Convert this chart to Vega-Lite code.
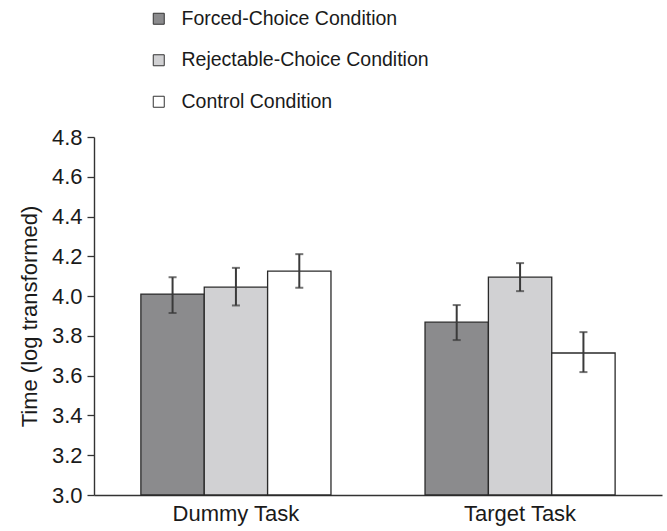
{
  "$schema": "https://vega.github.io/schema/vega-lite/v6.json",
  "autosize": "none",
  "width": 568,
  "height": 358,
  "padding": {"left": 94, "top": 137, "right": 5, "bottom": 36},
  "background": "white",
  "config": {
    "font": "Liberation Sans",
    "view": {"stroke": null},
    "axisY": {
      "titleFontSize": 22, "titleFontWeight": "normal", "titleColor": "#1a1a1a",
      "labelFontSize": 22, "labelColor": "#1a1a1a", "labelOverlap": false, "labelBound": false, "labelFlush": false,
      "grid": false, "tickSize": 7, "tickColor": "#333", "tickWidth": 1.3, "domainColor": "#333", "domainWidth": 1.4,
      "labelPadding": 5, "titlePadding": 10
    },
    "axisX": {
      "labelFontSize": 22, "labelColor": "#1a1a1a", "ticks": false, "domainColor": "#333", "domainWidth": 1.6, "labelPadding": 8
    }
  },
  "data": {
    "values": [
      {"task": "Dummy Task", "condition": "Forced-Choice Condition", "mean": 4.01, "lo": 3.915, "hi": 4.095},
      {"task": "Dummy Task", "condition": "Rejectable-Choice Condition", "mean": 4.045, "lo": 3.953, "hi": 4.142},
      {"task": "Dummy Task", "condition": "Control Condition", "mean": 4.126, "lo": 4.042, "hi": 4.211},
      {"task": "Target Task", "condition": "Forced-Choice Condition", "mean": 3.869, "lo": 3.779, "hi": 3.955},
      {"task": "Target Task", "condition": "Rejectable-Choice Condition", "mean": 4.095, "lo": 4.025, "hi": 4.166},
      {"task": "Target Task", "condition": "Control Condition", "mean": 3.714, "lo": 3.618, "hi": 3.819}
    ]
  },
  "encoding": {
    "x": {
      "field": "task", "type": "nominal",
      "scale": {"paddingInner": 0.331, "paddingOuter": 0.165},
      "axis": {"title": null, "labelAngle": 0}
    },
    "xOffset": {
      "field": "condition", "type": "nominal",
      "sort": ["Forced-Choice Condition", "Rejectable-Choice Condition", "Control Condition"],
      "scale": {"paddingInner": 0, "paddingOuter": 0}
    }
  },
  "layer": [
    {
      "mark": {"type": "bar", "stroke": "#2a2a2a", "strokeWidth": 1.3},
      "encoding": {
        "y": {
          "field": "mean", "type": "quantitative",
          "scale": {"domain": [3.0, 4.8], "zero": false, "nice": false},
          "axis": {"title": "Time (log transformed)", "format": ".1f", "values": [3.0, 3.2, 3.4, 3.6, 3.8, 4.0, 4.2, 4.4, 4.6, 4.8]}
        },
        "y2": {"datum": 3.0},
        "fill": {
          "field": "condition", "type": "nominal",
          "sort": ["Forced-Choice Condition", "Rejectable-Choice Condition", "Control Condition"],
          "scale": {"domain": ["Forced-Choice Condition", "Rejectable-Choice Condition", "Control Condition"], "range": ["#8b8b8d", "#d1d1d3", "#ffffff"]},
          "legend": {
            "title": null, "orient": "none", "legendX": 55, "legendY": -128,
            "symbolType": "square", "symbolSize": 121, "symbolStrokeColor": "#333", "symbolStrokeWidth": 1,
            "labelFontSize": 19.5, "labelColor": "#1a1a1a", "labelLimit": 400, "rowPadding": 20.5, "labelOffset": 13
          }
        }
      }
    },
    {
      "mark": {"type": "rule", "color": "#3a3a3a", "strokeWidth": 2},
      "encoding": {
        "y": {"field": "lo", "type": "quantitative", "axis": {"title": "Time (log transformed)", "format": ".1f", "values": [3.0, 3.2, 3.4, 3.6, 3.8, 4.0, 4.2, 4.4, 4.6, 4.8]}},
        "y2": {"field": "hi"}
      }
    },
    {
      "mark": {"type": "tick", "color": "#3a3a3a", "size": 8, "thickness": 2, "orient": "horizontal"},
      "encoding": {"y": {"field": "lo", "type": "quantitative", "axis": {"title": "Time (log transformed)", "format": ".1f", "values": [3.0, 3.2, 3.4, 3.6, 3.8, 4.0, 4.2, 4.4, 4.6, 4.8]}}}
    },
    {
      "mark": {"type": "tick", "color": "#3a3a3a", "size": 8, "thickness": 2, "orient": "horizontal"},
      "encoding": {"y": {"field": "hi", "type": "quantitative", "axis": {"title": "Time (log transformed)", "format": ".1f", "values": [3.0, 3.2, 3.4, 3.6, 3.8, 4.0, 4.2, 4.4, 4.6, 4.8]}}}
    }
  ]
}
